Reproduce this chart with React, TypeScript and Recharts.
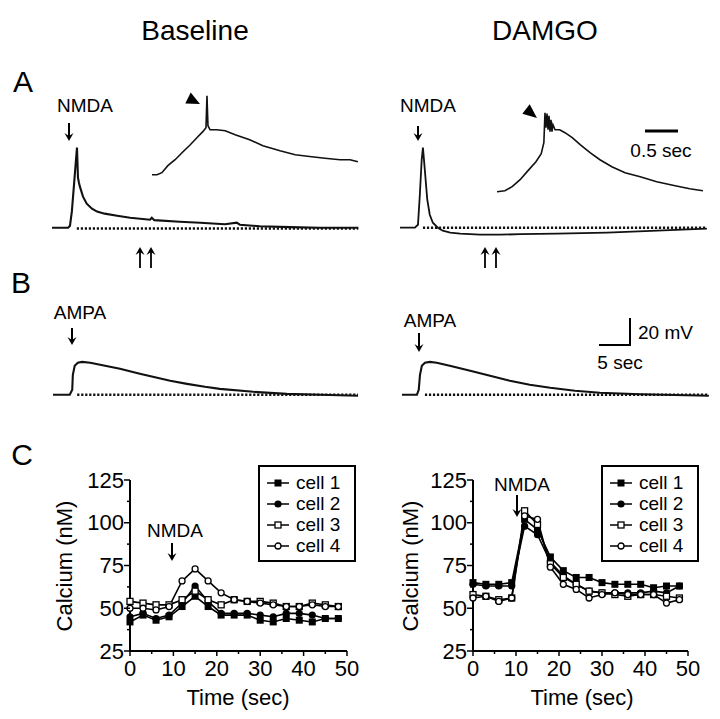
import React from 'react';
import { LineChart, Line, XAxis, YAxis, Legend } from 'recharts';

// ---- panel C: calcium imaging (nM) ----
const times = [0, 3, 6, 9, 12, 15, 18, 21, 24, 27, 30, 33, 36, 39, 42, 45, 48];

const baseCell1 = [42, 46, 43, 45, 51, 57, 51, 46, 46, 46, 43, 42, 44, 43, 42, 44, 44];
const baseCell2 = [45, 47, 44, 46, 53, 63, 54, 47, 47, 47, 46, 45, 47, 47, 46, 44, 44];
const baseCell3 = [54, 53, 52, 52, 55, 60, 55, 52, 55, 54, 54, 53, 51, 51, 53, 52, 51];
const baseCell4 = [50, 50, 49, 51, 66, 73, 66, 59, 55, 54, 53, 52, 51, 51, 52, 51, 51];

const damCell1 = [65, 64, 64, 65, 102, 96, 80, 72, 68, 68, 65, 64, 64, 64, 62, 63, 63];
const damCell2 = [64, 63, 63, 63, 98, 93, 77, 69, 64, 60, 59, 59, 59, 59, 60, 59, 63];
const damCell3 = [58, 57, 55, 56, 107, 99, 76, 68, 64, 60, 59, 58, 57, 58, 58, 57, 56];
const damCell4 = [56, 57, 54, 56, 104, 102, 74, 64, 61, 56, 58, 59, 58, 58, 58, 53, 55];

const yTicks = [25, 37.5, 50, 62.5, 75, 87.5, 100, 112.5, 125];
const xTicks = [0, 5, 10, 15, 20, 25, 30, 35, 40, 45, 50];
const cellNames = ['cell 1', 'cell 2', 'cell 3', 'cell 4'];

// ---- panels A & B: membrane potential traces (sec, mV from rest) ----
const aBaseT = [0, 2.6, 2.9, 3.2, 3.55, 3.87, 4.03, 4.19, 4.35, 4.5, 5.0, 5.6, 6.45, 7.26, 8.5, 10.5, 12.6, 15.8, 16.1, 16.5, 20.6, 23.9, 27.9, 29.8, 30.3, 33.5, 38.4, 43.2, 49.4];
const aBaseV = [0, 0, 1.5, 11.9, 31.9, 50.4, 59.3, 37, 33.3, 30.4, 23, 17.8, 14.1, 11.9, 10.4, 8.9, 7.4, 5.9, 7.4, 5.6, 4.4, 3.7, 2.6, 3.7, 2.2, 1.1, 0.4, 0, 0];
const aBaseDotT = [4.0, 49.4];
const aBaseDotV = [-0.6, -0.6];

const aBaseInsetT = [0, 0.076, 0.15, 0.24, 0.35, 0.47, 0.58, 0.68, 0.77, 0.818, 0.833, 0.848, 0.88, 0.98, 1.11, 1.26, 1.48, 1.68, 1.94, 2.17, 2.42, 2.62, 2.85, 3.0, 3.12];
const aBaseInsetV = [0, 0, 1.5, 6.7, 11.1, 17, 22.2, 27.4, 31.9, 34.8, 58.5, 36.3, 33.3, 33.3, 32.6, 29.6, 25.9, 21.5, 17.8, 14.8, 13.3, 12.2, 11.1, 11.1, 9.6];

const aDamT = [0, 2.4, 2.9, 3.2, 3.5, 3.7, 4.0, 4.4, 4.8, 5.3, 6.1, 6.9, 8.1, 9.7, 12.9, 16.1, 19.4, 25.3, 33.4, 41.5, 49.5];
const aDamV = [0, 0, 2.2, 24.4, 50.4, 59.3, 43, 20.7, 9.6, 3.7, 0, -2.2, -3.7, -4.4, -5.2, -5.2, -4.8, -4.4, -3.7, -2.2, -0.7];
const aDamDotT = [3.7, 49.5];
const aDamDotV = [0, 0];

const aDamInsetT = [0, 0.12, 0.23, 0.35, 0.47, 0.59, 0.67, 0.71, 0.727, 0.742, 0.758, 0.773, 0.788, 0.803, 0.818, 0.833, 0.848, 0.88, 0.95, 1.03, 1.14, 1.26, 1.41, 1.56, 1.74, 1.94, 2.17, 2.42, 2.7, 2.92, 3.12];
const aDamInsetV = [0, 0.7, 3.7, 8.9, 15.6, 22.2, 28.1, 36.3, 58.5, 47.4, 57.8, 45.9, 56.3, 44.4, 53.3, 44.4, 49.6, 45.9, 45.9, 43.7, 40, 34.8, 28.9, 23.7, 18.5, 14.1, 11.1, 7.4, 4.4, 2.2, 0.7];

const bBaseT = [0, 2.7, 3.1, 3.2, 3.5, 4.0, 4.7, 6.0, 7.6, 10.8, 14.0, 16.1, 18.9, 21.6, 24.5, 26.9, 32.3, 37.7, 43.1, 49.2];
const bBaseV = [0, 0, 3.7, 14.8, 21.5, 23.7, 24.4, 23.7, 22.2, 19.3, 15.6, 13.3, 10.4, 8.1, 5.9, 4.4, 2.2, 0.7, 0, -0.7];
const bBaseDotT = [3.9, 49.2];
const bBaseDotV = [0, 0];

const bDamT = [0, 2.4, 2.7, 2.9, 3.2, 3.7, 4.5, 5.6, 7.7, 11.0, 14.2, 17.4, 20.6, 23.9, 27.9, 31.9, 38.4, 49.5];
const bDamV = [0, 0, 3.7, 14.8, 21.5, 23.7, 24.4, 23.7, 21.5, 17.8, 14.1, 10.4, 7.4, 5.2, 3, 1.5, 0.4, -0.7];
const bDamDotT = [3.7, 49.5];
const bDamDotV = [0, 0];

const MV_PX = 1.35; // 20 mV scale bar
const SEC_PX = 6.2; // 5 sec scale bar
const INSET_SEC_PX = 66; // 0.5 sec scale bar

const zip = (t: number[], v: number[]) => t.map((x, i) => ({ t: x, v: v[i] }));

const calcRows = (c1: number[], c2: number[], c3: number[], c4: number[]) =>
  times.map((t, i) => ({ t, c1: c1[i], c2: c2[i], c3: c3[i], c4: c4[i] }));

const shapes: Record<string, string> = { c1: 'sq', c2: 'ci', c3: 'osq', c4: 'oci' };

const Marker = ({ shape, cx, cy }: { shape: string; cx: number; cy: number }) => {
  if (shape === 'sq') return <rect x={cx - 3.5} y={cy - 3.5} width={7} height={7} fill="#000" />;
  if (shape === 'ci') return <circle cx={cx} cy={cy} r={3.6} fill="#000" />;
  if (shape === 'osq') return <rect x={cx - 3} y={cy - 3} width={6} height={6} fill="#fff" stroke="#000" strokeWidth={1.3} />;
  return <circle cx={cx} cy={cy} r={3} fill="#fff" stroke="#000" strokeWidth={1.3} />;
};

const YTick = (props: any) => {
  const { x, y, payload } = props;
  const major = payload.value % 25 === 0;
  return (
    <g>
      <line x1={x} y1={y} x2={x - (major ? 6 : 3)} y2={y} stroke="#000" strokeWidth={1.5} />
      {major && (
        <text x={x - 6} y={y} textAnchor="end" dominantBaseline="central" fontSize={22} fill="#000">
          {payload.value}
        </text>
      )}
    </g>
  );
};

const XTick = (props: any) => {
  const { x, y, payload } = props;
  const major = payload.value % 10 === 0;
  return (
    <g>
      <line x1={x} y1={y} x2={x} y2={y + (major ? 5 : 3)} stroke="#000" strokeWidth={1.5} />
      {major && (
        <text x={x} y={y + 17} textAnchor="middle" dominantBaseline="central" fontSize={22} fill="#000">
          {payload.value}
        </text>
      )}
    </g>
  );
};

const renderLegend = (props: any) => {
  const payload = props.payload || [];
  return (
    <div style={{ border: '2px solid #000', width: 98, height: 97, boxSizing: 'border-box', padding: '5px 0 0 7px' }}>
      {payload.map((entry: any) => (
        <div key={entry.value} style={{ display: 'flex', alignItems: 'center', height: 21, fontSize: 19, lineHeight: '21px' }}>
          <svg width={22} height={14}>
            <line x1={0} y1={7} x2={22} y2={7} stroke="#000" strokeWidth={1.5} />
            <Marker shape={shapes[entry.dataKey]} cx={11} cy={7} />
          </svg>
          <span style={{ marginLeft: 7 }}>{entry.value}</span>
        </div>
      ))}
    </div>
  );
};

const CalciumChart = ({ left, rows, rightMargin }: { left: number; rows: any[]; rightMargin: number }) => (
  <div style={{ position: 'absolute', left, top: 440, width: 330, height: 279 }}>
    <LineChart width={330} height={279} data={rows} margin={{ top: 40, right: rightMargin, bottom: 28, left: 40 }}>
      <XAxis
        type="number"
        dataKey="t"
        domain={[0, 50]}
        ticks={xTicks}
        interval={0}
        tick={<XTick />}
        tickLine={false}
        tickSize={0}
        tickMargin={0}
        height={40}
        axisLine={{ stroke: '#000', strokeWidth: 2 }}
      />
      <YAxis
        type="number"
        domain={[25, 125]}
        ticks={yTicks}
        interval={0}
        tick={<YTick />}
        tickLine={false}
        tickSize={0}
        tickMargin={0}
        width={50}
        axisLine={{ stroke: '#000', strokeWidth: 2 }}
      />
      <Legend
        layout="vertical"
        align="center"
        verticalAlign="middle"
        content={renderLegend}
        wrapperStyle={{ left: 218, top: 25, width: 98, height: 97 }}
      />
      {['c1', 'c2', 'c3', 'c4'].map((k, i) => (
        <Line
          key={k}
          dataKey={k}
          name={cellNames[i]}
          type="linear"
          stroke="#000"
          strokeWidth={1.6}
          isAnimationActive={false}
          dot={(p: any) => <Marker key={`${k}-${p.index}`} shape={shapes[k]} cx={p.cx} cy={p.cy} />}
          activeDot={false}
        />
      ))}
    </LineChart>
  </div>
);

const TraceChart = ({
  x0, yBase, secPx, tMax, vMin, vMax, trace, dots, sw = 1.6,
}: {
  x0: number; yBase: number; secPx: number; tMax: number; vMin: number; vMax: number;
  trace: { t: number; v: number }[]; dots?: { t: number; v: number }[]; sw?: number;
}) => {
  const w = tMax * secPx;
  const h = (vMax - vMin) * MV_PX;
  const top = yBase - vMax * MV_PX;
  return (
    <div style={{ position: 'absolute', left: x0, top, width: w, height: h }}>
      <LineChart width={w} height={h} data={trace} margin={{ top: 0, right: 0, bottom: 0, left: 0 }}>
        <XAxis type="number" dataKey="t" domain={[0, tMax]} hide />
        <YAxis type="number" domain={[vMin, vMax]} hide />
        <Line dataKey="v" type="linear" stroke="#111" strokeWidth={sw} dot={false} activeDot={false} isAnimationActive={false} />
        {dots && (
          <Line data={dots} dataKey="v" type="linear" stroke="#111" strokeWidth={2.6} strokeDasharray="2.2 1.8" dot={false} activeDot={false} isAnimationActive={false} />
        )}
      </LineChart>
    </div>
  );
};

const DownArrow = ({ x, y1, y2 }: { x: number; y1: number; y2: number }) => (
  <g>
    <line x1={x} y1={y1} x2={x} y2={y2 - 4} stroke="#000" strokeWidth={2} />
    <path d={`M${x - 4.5},${y2 - 8} L${x},${y2} L${x + 4.5},${y2 - 8} L${x},${y2 - 5} Z`} fill="#000" />
  </g>
);

const UpArrow = ({ x, y1, y2 }: { x: number; y1: number; y2: number }) => (
  <g>
    <line x1={x} y1={y1} x2={x} y2={y2 + 4} stroke="#000" strokeWidth={1.8} />
    <path d={`M${x - 4.5},${y2 + 8} L${x},${y2} L${x + 4.5},${y2 + 8} L${x},${y2 + 5} Z`} fill="#000" />
  </g>
);

export default function App() {
  return (
    <div style={{ position: 'absolute', left: 0, top: 0, width: 720, height: 719, background: '#fff', fontFamily: '"Liberation Sans", Arial, sans-serif', color: '#000' }}>
      {/* A: NMDA responses */}
      <TraceChart x0={52} yBase={228} secPx={SEC_PX} tMax={50} vMin={-8} vMax={62} trace={zip(aBaseT, aBaseV)} dots={zip(aBaseDotT, aBaseDotV)} sw={2.1} />
      <TraceChart x0={152} yBase={175} secPx={INSET_SEC_PX} tMax={3.2} vMin={-3} vMax={62} trace={zip(aBaseInsetT, aBaseInsetV)} sw={1.6} />
      <TraceChart x0={400} yBase={228} secPx={SEC_PX} tMax={50} vMin={-8} vMax={62} trace={zip(aDamT, aDamV)} dots={zip(aDamDotT, aDamDotV)} sw={1.8} />
      <TraceChart x0={497} yBase={192} secPx={INSET_SEC_PX} tMax={3.2} vMin={-3} vMax={62} trace={zip(aDamInsetT, aDamInsetV)} sw={1.6} />

      {/* B: AMPA responses */}
      <TraceChart x0={53} yBase={395} secPx={SEC_PX} tMax={50} vMin={-5} vMax={28} trace={zip(bBaseT, bBaseV)} dots={zip(bBaseDotT, bBaseDotV)} sw={2.1} />
      <TraceChart x0={402} yBase={395} secPx={SEC_PX} tMax={50} vMin={-5} vMax={28} trace={zip(bDamT, bDamV)} dots={zip(bDamDotT, bDamDotV)} sw={2.1} />

      {/* C: calcium */}
      <CalciumChart left={40} rows={calcRows(baseCell1, baseCell2, baseCell3, baseCell4)} rightMargin={23} />
      <CalciumChart left={383} rows={calcRows(damCell1, damCell2, damCell3, damCell4)} rightMargin={25} />

      <svg width={720} height={719} style={{ position: 'absolute', left: 0, top: 0, pointerEvents: 'none' }}>
        <g fill="#000" fontFamily='"Liberation Sans", Arial, sans-serif'>
          <text x={195} y={30} fontSize={28} textAnchor="middle" dominantBaseline="central">Baseline</text>
          <text x={545} y={30} fontSize={28} textAnchor="middle" dominantBaseline="central">DAMGO</text>

          <text x={23} y={81} fontSize={30} textAnchor="middle" dominantBaseline="central">A</text>
          <text x={21} y={282} fontSize={30} textAnchor="middle" dominantBaseline="central">B</text>
          <text x={22} y={454} fontSize={30} textAnchor="middle" dominantBaseline="central">C</text>

          <text x={85} y={105} fontSize={19} textAnchor="middle" dominantBaseline="central">NMDA</text>
          <text x={428} y={105} fontSize={19} textAnchor="middle" dominantBaseline="central">NMDA</text>
          <text x={661} y={150} fontSize={19} textAnchor="middle" dominantBaseline="central">0.5 sec</text>
          <text x={80} y={312} fontSize={19} textAnchor="middle" dominantBaseline="central">AMPA</text>
          <text x={430} y={320} fontSize={19} textAnchor="middle" dominantBaseline="central">AMPA</text>
          <text x={638} y={332} fontSize={19} dominantBaseline="central">20 mV</text>
          <text x={620} y={362} fontSize={19} textAnchor="middle" dominantBaseline="central">5 sec</text>

          <text x={175} y={530} fontSize={19} textAnchor="middle" dominantBaseline="central">NMDA</text>
          <text x={522} y={484} fontSize={19} textAnchor="middle" dominantBaseline="central">NMDA</text>

          <text x={64} y={566} fontSize={22} textAnchor="middle" dominantBaseline="central" transform="rotate(-90 64 566)">Calcium (nM)</text>
          <text x={410} y={566} fontSize={22} textAnchor="middle" dominantBaseline="central" transform="rotate(-90 410 566)">Calcium (nM)</text>
          <text x={238} y={697} fontSize={22} textAnchor="middle" dominantBaseline="central">Time (sec)</text>
          <text x={582} y={697} fontSize={22} textAnchor="middle" dominantBaseline="central">Time (sec)</text>
        </g>

        <DownArrow x={69} y1={123} y2={141} />
        <DownArrow x={418} y1={126} y2={141} />
        <DownArrow x={72} y1={328} y2={345} />
        <DownArrow x={419} y1={333} y2={352} />
        <DownArrow x={172} y1={543} y2={561} />
        <DownArrow x={517} y1={495} y2={517} />

        <UpArrow x={140} y1={268} y2={247} />
        <UpArrow x={151} y1={268} y2={247} />
        <UpArrow x={485} y1={268} y2={247} />
        <UpArrow x={496} y1={268} y2={247} />

        <polygon points="190.7,92.6 200,104 185.3,103.4" fill="#000" />
        <polygon points="529.7,104.3 537,118 522.3,113.7" fill="#000" />

        <line x1={645} y1={131} x2={678} y2={131} stroke="#000" strokeWidth={3} />
        <polyline points="630,318 630,345 599,345" fill="none" stroke="#000" strokeWidth={2} />
      </svg>
    </div>
  );
}
